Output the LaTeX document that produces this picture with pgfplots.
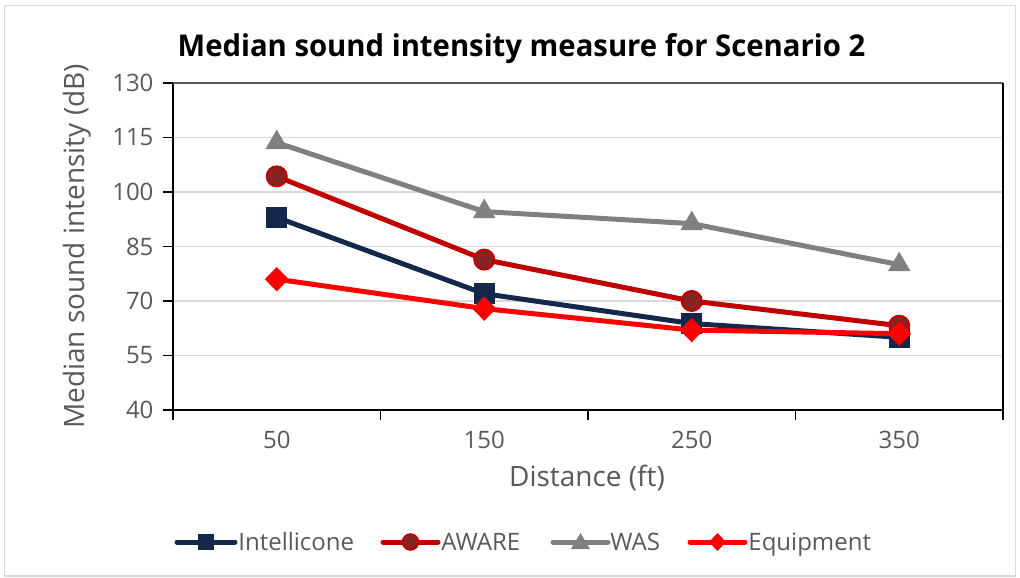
\documentclass[border=0pt]{standalone}
\usepackage{pgfplots}
\pgfplotsset{compat=1.18}
\usepackage{fontspec}
\setmainfont{Open Sans}
\definecolor{cIntel}{HTML}{14284B}
\definecolor{cAware}{HTML}{C00000}
\definecolor{cAwareFill}{HTML}{862424}
\definecolor{cWas}{HTML}{808080}
\definecolor{cEquip}{HTML}{FF0000}
\definecolor{cText}{HTML}{595959}
\definecolor{cGrid}{HTML}{D9D9D9}
\begin{document}
\begin{tikzpicture}
\begin{axis}[
  scale only axis,
  width=415bp, height=163.5bp,
  xmin=-0.5, xmax=3.5,
  ymin=40, ymax=130,
  ytick={40,55,...,130},
  xtick={-0.5,0.5,1.5,2.5,3.5},
  xticklabels={},
  extra x ticks={0,1,2,3},
  extra x tick labels={50,150,250,350},
  extra x tick style={major tick length=0pt, grid=none},
  tick align=outside,
  major tick length=4.75bp,
  tick style={black, line width=0.75bp},
  ymajorgrids,
  grid style={cGrid, line width=0.75bp},
  axis line style={line width=0.75bp},
  axis x line*=bottom,
  axis y line*=left,
  tick label style={font=\fontsize{12bp}{14bp}\selectfont, text=cText},
  yticklabel style={anchor=east, xshift=-1.5bp},
  xticklabel style={anchor=north, yshift=-7bp},
  /pgf/number format/assume math mode=true,
  clip=false,
]
\addplot[cIntel, line width=2.5bp, mark=square*, mark size=5bp, mark options={fill=cIntel, draw=cIntel, line width=0.5bp}]
  coordinates {(0,93.0) (1,72.0) (2,63.8) (3,60.0)};
\addplot[cAware, line width=2.5bp, mark=*, mark size=5bp, mark options={fill=cAwareFill, draw=cAware, line width=1bp}]
  coordinates {(0,104.3) (1,81.4) (2,70.0) (3,63.2)};
\addplot[cWas, line width=2.5bp, mark=triangle*, mark size=6bp, mark options={fill=cWas, draw=cWas, line width=0.5bp}]
  coordinates {(0,113.6) (1,94.6) (2,91.3) (3,80.0)};
\addplot[cEquip, line width=2.5bp, mark=diamond*, mark size=5.75bp, mark options={fill=cEquip, draw=cEquip, line width=0.5bp, xscale=1.3}]
  coordinates {(0,76.0) (1,67.9) (2,62.0) (3,61.0)};
\end{axis}
% top and right borders
\draw[line width=1bp, cText] (0,163.5bp) -- (415bp,163.5bp);
\draw[line width=1bp, black] (415bp,0) -- (415bp,163.5bp);
% title
\node[font=\fontsize{15bp}{18bp}\selectfont\bfseries, text=black, xscale=0.976] at (174.25bp,180.5bp) {Median sound intensity measure for Scenario 2};
% axis labels
\node[font=\fontsize{14bp}{17bp}\selectfont, text=cText, rotate=90] at (-48bp,81.75bp) {Median sound intensity (dB)};
\node[font=\fontsize{14bp}{17bp}\selectfont, text=cText] at (207bp,-34bp) {Distance (ft)};
% legend
\begin{scope}[yshift=-66bp]
  \draw[cIntel, line width=2.5bp, line cap=round] (2bp,0) -- (31bp,0);
  \fill[cIntel] (16.5bp,0) +(-4bp,-4bp) rectangle +(4bp,4bp);
  \node[anchor=base west, inner sep=0pt, font=\fontsize{12bp}{14bp}\selectfont, text=cText] at (32.5bp,-4.3bp) {Intellicone};
  \draw[cAware, line width=2.5bp, line cap=round] (105bp,0) -- (132.5bp,0);
  \filldraw[fill=cAwareFill, draw=cAware, line width=0.75bp] (118.75bp,0) circle (4bp);
  \node[anchor=base west, inner sep=0pt, font=\fontsize{12bp}{14bp}\selectfont, text=cText] at (134bp,-4.3bp) {AWARE};
  \draw[cWas, line width=2.5bp, line cap=round] (190bp,0) -- (217.5bp,0);
  \fill[cWas] (203.75bp,4.5bp) -- (208.5bp,-3.5bp) -- (199bp,-3.5bp) -- cycle;
  \node[anchor=base west, inner sep=0pt, font=\fontsize{12bp}{14bp}\selectfont, text=cText] at (218.5bp,-4.3bp) {WAS};
  \draw[cEquip, line width=2.5bp, line cap=round] (258.5bp,0) -- (286bp,0);
  \fill[cEquip] (272.25bp,4.5bp) -- (276.5bp,0) -- (272.25bp,-4.5bp) -- (268bp,0) -- cycle;
  \node[anchor=base west, inner sep=0pt, font=\fontsize{12bp}{14bp}\selectfont, text=cText] at (287.5bp,-4.3bp) {Equipment};
\end{scope}
% outer frame
\draw[cGrid, line width=0.75bp] (-84.25bp,-83bp) rectangle (421.25bp,202.25bp);
\pgfresetboundingbox
\useasboundingbox (-86.5bp,-84bp) rectangle (423.5bp,205bp);
\end{tikzpicture}
\end{document}
